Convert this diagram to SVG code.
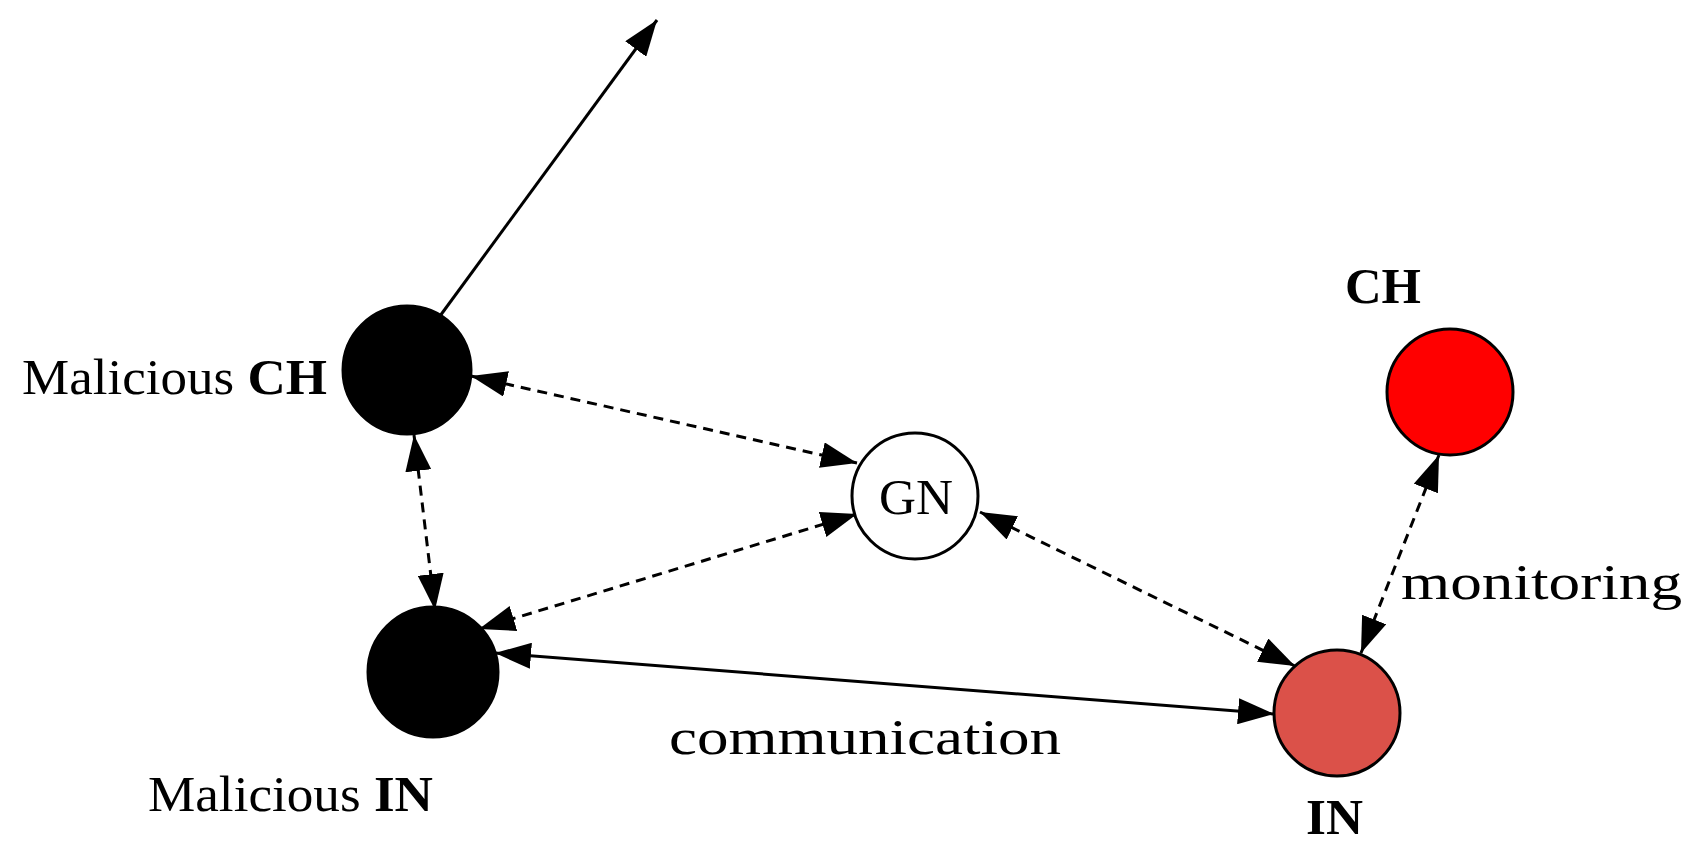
<svg xmlns="http://www.w3.org/2000/svg" width="1698" height="860" viewBox="0 0 1698 860">
<style>
text{font-family:"Liberation Serif","Times New Roman",serif;font-size:50px;fill:#000}
.b{font-weight:bold}
.n{stroke:#000;stroke-width:3}
.c line{stroke:#000;stroke-width:3;marker-end:url(#ah)}
.d{stroke-dasharray:10 7}
.bi{marker-start:url(#ah)}
</style>
<defs>
<marker id="ah" markerUnits="userSpaceOnUse" markerWidth="38" markerHeight="26" refX="36" refY="13" orient="auto-start-reverse">
<path d="M0,0 L36,13 L0,26 Z" fill="#000"/>
</marker>
</defs>
<rect width="1698" height="860" fill="#fff"/>
<g class="c">
<line x1="440" y1="316" x2="657" y2="20"/>
<line class="d bi" x1="471" y1="376" x2="857" y2="463"/>
<line class="d bi" x1="414" y1="435" x2="435" y2="610"/>
<line class="d bi" x1="857" y1="514" x2="479" y2="629"/>
<line class="d bi" x1="980" y1="512" x2="1295" y2="666"/>
<line class="d bi" x1="1439" y1="455" x2="1361" y2="653"/>
<line class="bi" x1="495" y1="653" x2="1274" y2="714"/>
</g>
<g id="malicious-ch"><circle class="n" cx="407" cy="370" r="64" fill="#000"/><text x="22" y="394" textLength="305" lengthAdjust="spacingAndGlyphs">Malicious <tspan class="b">CH</tspan></text></g>
<g id="malicious-in"><circle class="n" cx="433" cy="672" r="65" fill="#000"/><text x="148" y="811" textLength="285" lengthAdjust="spacingAndGlyphs">Malicious <tspan class="b">IN</tspan></text></g>
<g id="gn"><circle class="n" cx="915" cy="496" r="63" fill="#fff"/><text x="879" y="514" textLength="74" lengthAdjust="spacingAndGlyphs">GN</text></g>
<g id="ch"><circle class="n" cx="1450" cy="392" r="63" fill="#ff0000"/><text class="b" x="1345" y="303" textLength="76" lengthAdjust="spacingAndGlyphs">CH</text></g>
<g id="in"><circle class="n" cx="1337" cy="713" r="63" fill="#db5149"/><text class="b" x="1306" y="834" textLength="57" lengthAdjust="spacingAndGlyphs">IN</text></g>
<text x="1401" y="599" textLength="281" lengthAdjust="spacingAndGlyphs">monitoring</text>
<text x="669" y="754" textLength="392" lengthAdjust="spacingAndGlyphs">communication</text>
</svg>
